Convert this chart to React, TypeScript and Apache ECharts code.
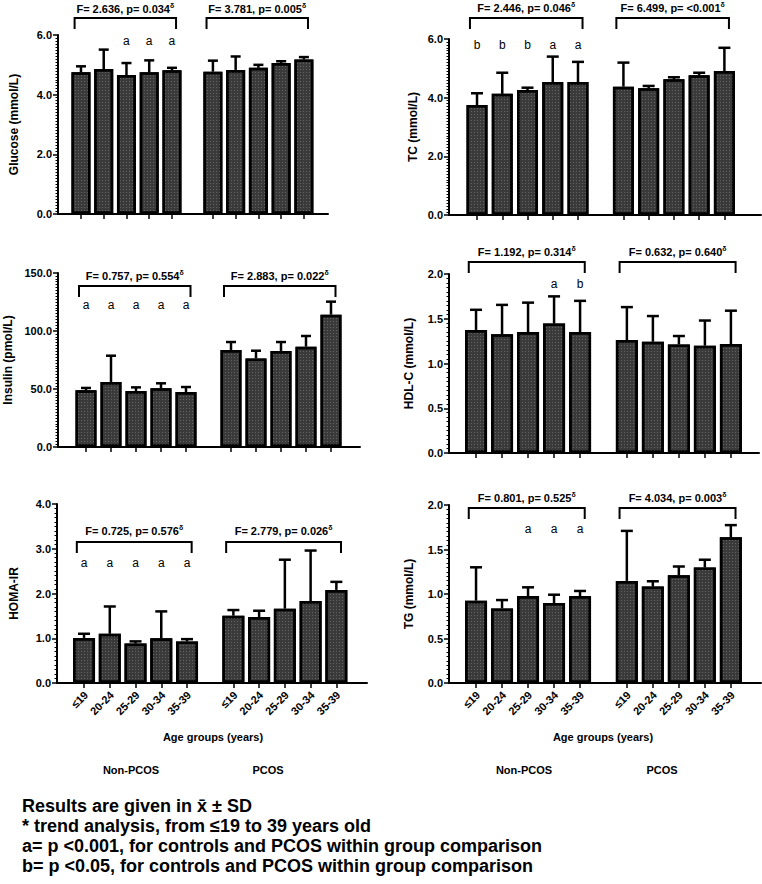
import React, { useEffect, useRef } from "react";
import * as echarts from "echarts";

// ---------- DATA ----------
const ageGroups = ["≤19", "20-24", "25-29", "30-34", "35-39"];

const glucoseNonPcos = [4.75, 4.86, 4.66, 4.75, 4.82];
const glucoseNonPcosSd = [0.2, 0.65, 0.4, 0.4, 0.08];
const glucosePcos = [4.77, 4.83, 4.9, 5.06, 5.18];
const glucosePcosSd = [0.37, 0.45, 0.1, 0.06, 0.08];
const glucoseStats = ["F= 2.636, p= 0.034", "F= 3.781, p= 0.005"];
const glucoseLetters = ["", "", "a", "a", "a"];

const tcNonPcos = [3.75, 4.13, 4.26, 4.53, 4.53];
const tcNonPcosSd = [0.4, 0.72, 0.08, 0.87, 0.69];
const tcPcos = [4.375, 4.32, 4.625, 4.76, 4.91];
const tcPcosSd = [0.82, 0.08, 0.07, 0.09, 0.79];
const tcStats = ["F= 2.446, p= 0.046", "F= 6.499, p= <0.001"];
const tcLetters = ["b", "b", "b", "a", "a"];

const insulinNonPcos = [48.9, 56.0, 48.3, 50.6, 47.4];
const insulinNonPcosSd = [2.0, 22.7, 3.1, 4.3, 4.3];
const insulinPcos = [83.6, 76.4, 82.8, 86.5, 114.1];
const insulinPcosSd = [6.9, 6.6, 7.7, 9.2, 11.2];
const insulinStats = ["F= 0.757, p= 0.554", "F= 2.883, p= 0.022"];
const insulinLetters = ["a", "a", "a", "a", "a"];

const hdlNonPcos = [1.375, 1.326, 1.352, 1.446, 1.352];
const hdlNonPcosSd = [0.225, 0.329, 0.328, 0.304, 0.348];
const hdlPcos = [1.262, 1.243, 1.213, 1.199, 1.217];
const hdlPcosSd = [0.368, 0.287, 0.094, 0.281, 0.373];
const hdlStats = ["F= 1.192, p= 0.314", "F= 0.632, p= 0.640"];
const hdlLetters = ["", "", "", "a", "b"];

const homaNonPcos = [1.007, 1.1, 0.88, 1.0, 0.93];
const homaNonPcosSd = [0.093, 0.61, 0.05, 0.6, 0.05];
const homaPcos = [1.504, 1.474, 1.66, 1.83, 2.08];
const homaPcosSd = [0.126, 0.141, 1.095, 1.13, 0.18];
const homaStats = ["F= 0.725, p= 0.576", "F= 2.779, p= 0.026"];
const homaLetters = ["a", "a", "a", "a", "a"];

const tgNonPcos = [0.925, 0.838, 0.977, 0.898, 0.977];
const tgNonPcosSd = [0.375, 0.094, 0.098, 0.094, 0.057];
const tgPcos = [1.147, 1.083, 1.211, 1.298, 1.638];
const tgPcosSd = [0.562, 0.06, 0.098, 0.087, 0.136];
const tgStats = ["F= 0.801, p= 0.525", "F= 4.034, p= 0.003"];
const tgLetters = ["", "", "a", "a", "a"];

const footnotes = [
  "Results are given in x\u0304 ± SD",
  "* trend analysis, from ≤19 to 39 years old",
  "a= p <0.001, for controls and PCOS within group comparison",
  "b= p <0.05, for controls and PCOS within group comparison",
];

// ---------- LAYOUT ----------
const FONT = "'Liberation Sans', Arial, Helvetica, sans-serif";
const GAP = 5.8; // index offset of the PCOS group
const nonPos = [0, 1, 2, 3, 4];
const pcosPos = nonPos.map((i) => i + GAP);
const allPos = [...nonPos, ...pcosPos];

const panels = [
  { name: "Glucose (mmol/L)", non: glucoseNonPcos, nonSd: glucoseNonPcosSd, pcos: glucosePcos, pcosSd: glucosePcosSd, stats: glucoseStats, letters: glucoseLetters,
    L: { left: 58, top: 35, width: 270, height: 179, xMin: -1.01, xMax: 10.86, yMax: 6, interval: 2, minor: 20, nameGap: 38, bracket: -17, text: -26, letter: 6, bottom: false } },
  { name: "TC (mmol/L)", non: tcNonPcos, nonSd: tcNonPcosSd, pcos: tcPcos, pcosSd: tcPcosSd, stats: tcStats, letters: tcLetters,
    L: { left: 449, top: 39, width: 312, height: 176, xMin: -1.11, xMax: 11.25, yMax: 6, interval: 2, minor: 20, nameGap: 30, bracket: -21, text: -31, letter: 6, bottom: false } },
  { name: "Insulin (pmol/L)", non: insulinNonPcos, nonSd: insulinNonPcosSd, pcos: insulinPcos, pcosSd: insulinPcosSd, stats: insulinStats, letters: insulinLetters,
    L: { left: 58, top: 273, width: 302, height: 174, xMin: -1.12, xMax: 10.96, yMax: 150, interval: 50, minor: 20, nameGap: 44, bracket: 13, text: 3, letter: 32, bottom: false } },
  { name: "HDL-C (mmol/L)", non: hdlNonPcos, nonSd: hdlNonPcosSd, pcos: hdlPcos, pcosSd: hdlPcosSd, stats: hdlStats, letters: hdlLetters,
    L: { left: 449, top: 274, width: 310, height: 179, xMin: -1.04, xMax: 10.88, yMax: 2, interval: 0.5, minor: 10, nameGap: 34, bracket: -12, text: -22, letter: 10, bottom: false } },
  { name: "HOMA-IR", non: homaNonPcos, nonSd: homaNonPcosSd, pcos: homaPcos, pcosSd: homaPcosSd, stats: homaStats, letters: homaLetters,
    L: { left: 57, top: 504, width: 310, height: 179, xMin: -1.05, xMax: 10.99, yMax: 4, interval: 1, minor: 10, nameGap: 37, bracket: 38, text: 27, letter: 59, bottom: true } },
  { name: "TG (mmol/L)", non: tgNonPcos, nonSd: tgNonPcosSd, pcos: tgPcos, pcosSd: tgPcosSd, stats: tgStats, letters: tgLetters,
    L: { left: 449, top: 505, width: 312, height: 178, xMin: -1.04, xMax: 10.96, yMax: 2, interval: 0.5, minor: 10, nameGap: 34, bracket: 3, text: -7, letter: 24, bottom: true } },
];

function buildOption() {
  const grid: any[] = [];
  const xAxis: any[] = [];
  const yAxis: any[] = [];
  const series: any[] = [];

  panels.forEach((p, i) => {
    const L = p.L;
    const step = L.width / (L.xMax - L.xMin);
    const barWidth = Math.round(step * 0.84);
    const capHalf = Math.round(step * 0.22);
    grid.push({ left: L.left, top: L.top, width: L.width, height: L.height, containLabel: false });
    xAxis.push({
      type: "value", gridIndex: i, min: L.xMin, max: L.xMax,
      splitLine: { show: false },
      axisLine: { show: true, onZero: false, lineStyle: { color: "#000", width: 2 } },
      axisTick: { show: true, customValues: allPos, length: 5, lineStyle: { color: "#000", width: 1.5 } },
      axisLabel: { show: false },
    });
    yAxis.push({
      type: "value", gridIndex: i, min: 0, max: L.yMax, interval: L.interval,
      name: p.name, nameLocation: "middle", nameGap: L.nameGap,
      nameTextStyle: { color: "#000", fontFamily: FONT, fontWeight: "bold", fontSize: 12 },
      splitLine: { show: false },
      minorSplitLine: { show: false },
      axisLine: { show: true, onZero: false, lineStyle: { color: "#000", width: 2 } },
      axisTick: { show: true, length: 5, lineStyle: { color: "#000", width: 1.5 } },
      minorTick: { show: true, splitNumber: L.minor, length: 2.5, lineStyle: { color: "#000", width: 1 } },
      axisLabel: {
        color: "#000", fontFamily: FONT, fontWeight: "bold", fontSize: 11, margin: 6,
        formatter: (v: number) => v.toFixed(1),
      },
    });
    const means = [...p.non, ...p.pcos];
    const sds = [...p.nonSd, ...p.pcosSd];
    series.push({
      type: "bar", xAxisIndex: i, yAxisIndex: i, barWidth, z: 2,
      data: allPos.map((x, k) => [x, means[k]]),
      itemStyle: {
        color: "#3a3a3a", borderColor: "#000", borderWidth: 2.5,
        decal: { symbol: "rect", symbolSize: 1, color: "rgba(130,130,130,0.6)", dashArrayX: [1, 2], dashArrayY: [1, 2] },
      },
      emphasis: { disabled: true },
    });
    series.push({
      type: "custom", xAxisIndex: i, yAxisIndex: i, z: 3, silent: true,
      data: allPos.map((x, k) => [x, means[k], sds[k]]),
      renderItem: (params: any, api: any) => {
        const x = api.value(0), m = api.value(1), sd = api.value(2);
        const base = api.coord([x, m]);
        const top = api.coord([x, m + sd]);
        const st = { stroke: "#000", lineWidth: 2.5 };
        return {
          type: "group",
          children: [
            { type: "line", shape: { x1: base[0], y1: base[1], x2: top[0], y2: top[1] }, style: st },
            { type: "line", shape: { x1: top[0] - capHalf, y1: top[1], x2: top[0] + capHalf, y2: top[1] }, style: st },
          ],
        };
      },
    });
    series.push({
      type: "custom", xAxisIndex: i, yAxisIndex: i, z: 4, silent: true,
      data: [[0, 0], [1, 0]],
      renderItem: (params: any, api: any) => {
        const g = api.value(0);
        const xs = g === 0 ? nonPos : pcosPos;
        const cs = params.coordSys;
        const left = api.coord([xs[0] - 0.28, 0])[0];
        const right = api.coord([xs[4] + 0.18, 0])[0];
        const by = cs.y + L.bracket;
        const children: any[] = [
          { type: "polyline", shape: { points: [[left, by + 11], [left, by], [right, by], [right, by + 11]] },
            style: { stroke: "#000", lineWidth: 2, fill: "none" } },
          { type: "text", x: (left + right) / 2, y: cs.y + L.text,
            style: {
              text: `{t|${p.stats[g]}}{s|δ}`,
              textAlign: "center", textVerticalAlign: "middle", align: "center", verticalAlign: "middle",
              rich: {
                t: { fontFamily: FONT, fontWeight: "bold", fontSize: 11, fill: "#000", color: "#000" },
                s: { fontFamily: FONT, fontWeight: "bold", fontSize: 7, fill: "#000", color: "#000", padding: [0, 0, 7, 0] },
              },
            } },
        ];
        if (g === 0) {
          p.letters.forEach((ch, k) => {
            if (!ch) return;
            const cx = api.coord([xs[k], 0])[0];
            children.push({ type: "text", x: cx, y: cs.y + L.letter,
              style: { text: ch, font: `12px ${FONT}`, fill: "#000", textAlign: "center", textVerticalAlign: "middle", align: "center", verticalAlign: "middle" } });
          });
        }
        if (L.bottom) {
          xs.forEach((xv, k) => {
            const cx = api.coord([xv, 0])[0];
            children.push({ type: "text", x: cx + 2, y: cs.y + cs.height + 10, rotation: Math.PI / 4,
              style: { text: ageGroups[k], font: `bold 11px ${FONT}`, fill: "#000", textAlign: "right", textVerticalAlign: "middle", align: "right", verticalAlign: "middle" } });
          });
        }
        return { type: "group", children };
      },
    });
  });

  const bold11 = `bold 11px ${FONT}`;
  const graphic: any[] = [];
  const under = [
    { t: "Age groups (years)", x: 213, y: 737 },
    { t: "Age groups (years)", x: 603, y: 737 },
    { t: "Non-PCOS", x: 131, y: 770 },
    { t: "PCOS", x: 268, y: 770 },
    { t: "Non-PCOS", x: 524, y: 770 },
    { t: "PCOS", x: 662, y: 770 },
  ];
  under.forEach((u) =>
    graphic.push({ type: "text", x: u.x, y: u.y, style: { text: u.t, font: bold11, fill: "#000", textAlign: "center", textVerticalAlign: "middle", align: "center", verticalAlign: "middle" } })
  );
  footnotes.forEach((t, k) =>
    graphic.push({ type: "text", x: 22, y: 806 + k * 20, style: { text: t, font: `bold 18px ${FONT}`, fill: "#000", textAlign: "left", textVerticalAlign: "middle", align: "left", verticalAlign: "middle" } })
  );

  return {
    animation: false,
    backgroundColor: "#fff",
    textStyle: { fontFamily: FONT },
    grid, xAxis, yAxis, series, graphic,
  };
}

export default function App() {
  const ref = useRef<HTMLDivElement>(null);
  useEffect(() => {
    if (!ref.current) return;
    const chart = echarts.init(ref.current, undefined, { renderer: "svg" });
    chart.setOption(buildOption() as any);
    return () => chart.dispose();
  }, []);
  return <div ref={ref} style={{ position: "fixed", left: 0, top: 0, width: 762, height: 884, background: "#fff" }} />;
}
